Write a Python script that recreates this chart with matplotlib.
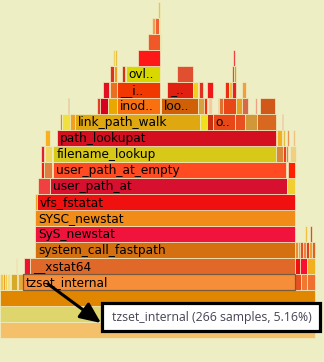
import matplotlib
matplotlib.use("Agg")
from matplotlib import pyplot as plt
from matplotlib.patches import Rectangle

total_samples = 308
hover_name = "tzset_internal"
hover_samples = 266
hover_percent = 5.16

# frames: (depth, start sample, samples, name)
frames = [
    (0, 0, 308, ""), (1, 0, 308, ""), (2, 0, 308, ""),
    (3, 0, 3, ""), (3, 3, 2, ""), (3, 5, 2, ""), (3, 7, 3, ""), (3, 11, 6, ""),
    (3, 17, 1, ""), (3, 18, 4, ""), (3, 22, 266, "tzset_internal"),
    (3, 288, 6, ""), (3, 294, 6, ""), (3, 300, 8, ""),
    (4, 16, 1, ""), (4, 23, 6, ""), (4, 29, 259, "__xstat64"),
    (4, 288, 5, ""), (4, 293, 7, ""), (4, 300, 8, ""),
    (5, 34, 254, "system_call_fastpath"), (5, 288, 3, ""), (5, 291, 2, ""),
    (5, 293, 3, ""), (5, 296, 3, ""), (5, 299, 3, ""), (5, 302, 3, ""), (5, 305, 3, ""),
    (6, 34, 254, "SyS_newstat"), (6, 298, 2, ""), (6, 303, 2, ""),
    (7, 34, 254, "SYSC_newstat"),
    (8, 34, 2, ""), (8, 36, 252, "vfs_fstatat"),
    (9, 37, 12, ""), (9, 49, 232, "user_path_at"), (9, 281, 7, ""),
    (10, 40, 3, ""), (10, 43, 8, ""), (10, 52, 228, "user_path_at_empty"), (10, 282, 6, ""),
    (11, 40, 3, ""), (11, 44, 7, ""), (11, 52, 218, "filename_lookup"),
    (11, 270, 7, ""), (11, 277, 3, ""), (11, 280, 2, ""), (11, 284, 5, ""),
    (12, 44, 5, ""), (12, 56, 214, "path_lookupat"), (12, 271, 5, ""),
    (12, 277, 2, ""), (12, 281, 2, ""), (12, 286, 2, ""),
    (13, 59, 2, ""), (13, 61, 7, ""), (13, 68, 5, ""), (13, 73, 123, "link_path_walk"),
    (13, 196, 6, ""), (13, 202, 6, ""), (13, 208, 22, "o.."), (13, 230, 10, ""),
    (13, 240, 11, ""), (13, 251, 19, ""), (13, 276, 1, ""),
    (14, 66, 1, ""), (14, 95, 3, ""), (14, 98, 8, ""), (14, 106, 8, ""),
    (14, 114, 42, "inod.."), (14, 157, 37, "loo.."), (14, 194, 5, ""), (14, 199, 3, ""),
    (14, 203, 4, ""), (14, 213, 1, ""), (14, 214, 4, ""), (14, 218, 13, ""),
    (14, 231, 6, ""), (14, 237, 5, ""), (14, 249, 2, ""), (14, 254, 15, ""),
    (15, 101, 6, ""), (15, 108, 6, ""), (15, 114, 42, "__i.."), (15, 163, 26, "_.."),
    (15, 189, 5, ""), (15, 195, 3, ""), (15, 202, 6, ""), (15, 220, 4, ""),
    (15, 224, 3, ""), (15, 227, 4, ""), (15, 237, 4, ""),
    (16, 108, 3, ""), (16, 111, 3, ""), (16, 119, 3, ""), (16, 123, 33, "ovl.."),
    (16, 173, 16, ""), (16, 227, 2, ""), (16, 229, 2, ""),
    (17, 110, 2, ""), (17, 112, 2, ""), (17, 135, 21, ""), (17, 228, 2, ""),
    (18, 145, 11, ""), (18, 156, 1, ""),
    (19, 149, 3, ""), (19, 152, 3, ""), (19, 155, 1, ""),
    (20, 154, 2, ""),
]

frame_colors = [
    "#F4C06A", "#DED66C", "#E08600",
    "#F0C848", "#F0A030", "#F0D050", "#F0E080", "#D8A828",
    "#E89030", "#E8A838", "#F68D38",
    "#E85020", "#F07830", "#F07030",
    "#F0B070", "#F01030", "#E06828",
    "#F01010", "#F81030", "#F0B020",
    "#D47010", "#E89030", "#F0A040",
    "#E05020", "#F08040", "#E04020", "#F0A030", "#E06020",
    "#F0143C", "#F0C040", "#E05010",
    "#F28C18",
    "#F0A020", "#F01010",
    "#F04040", "#D81030", "#F0D030",
    "#F02010", "#E08040", "#FF4A22", "#FF2000",
    "#E02030", "#F0D860", "#D8C818",
    "#D88838", "#F04020", "#F08040", "#F0D080",
    "#F8B020", "#D41020", "#F0B020",
    "#E0C040", "#F09050", "#F0C080",
    "#F08030", "#F0E040", "#F0A020", "#E0A810",
    "#F0E020", "#C83010", "#E84818", "#E85020",
    "#D09838", "#D86820", "#F04040",
    "#D04010", "#E04020", "#D80020", "#E8A800",
    "#F87010", "#D06008", "#D8A040", "#F03010",
    "#F8C8A0", "#F06030", "#E07030", "#E84818",
    "#E8A020", "#D86848", "#F0A080", "#D05818",
    "#E01020", "#E87020", "#F03800", "#E02010",
    "#F0D020", "#E03020", "#F01818", "#E83010",
    "#F0C030", "#E82020", "#F0A040",
    "#E03020", "#F0A020", "#D83010", "#D8D800",
    "#E05030", "#E05020", "#D8A020",
    "#F0D060", "#E8C040", "#FF1818", "#F04040",
    "#F05828", "#F0C040",
    "#F0A050", "#F06030", "#F0C040",
    "#E8C838",
]

bg = "#EEEEC4"
W, H = 324, 362
fig = plt.figure(figsize=(W / 100, H / 100), dpi=100, facecolor=bg)
ax = fig.add_axes([0, 0, 1, 1])
ax.set_facecolor(bg)
ax.set_xlim(0, total_samples * 324 / 315)
ax.set_ylim(-2, 20.625)
ax.axis("off")

depths = [f[0] for f in frames]
starts = [f[1] for f in frames]
widths = [f[2] for f in frames]
ax.barh(depths, widths, left=starts, height=0.94, color=frame_colors,
        edgecolor=bg, linewidth=0.5)

for depth, start, samples, name in frames:
    if name:
        ax.annotate(name, (start, depth), xytext=(2.2, -0.5), textcoords="offset points",
                    fontsize=8.7, color="black", va="center", ha="left",
                    family="DejaVu Sans")

# outline on the hovered frame
hover = [f for f in frames if f[3] == hover_name][0]
ax.add_patch(Rectangle((hover[1], hover[0] - 0.47), hover[2], 0.94, fill=False,
                       edgecolor="#7A5A3A", linewidth=0.9))

# tooltip (pixel layout)
def fx(x):
    return x / W

def fy(y):
    return 1 - y / H

fig.patches.append(Rectangle((fx(102), fy(331)), fx(218), 28 / H, transform=fig.transFigure,
                             facecolor="white", edgecolor="black", linewidth=2.3, zorder=5))
fig.text(fx(112), fy(318), f"{hover_name} ({hover_samples} samples, {hover_percent:.2f}%)",
         fontsize=8.8, color="#454555", va="center", ha="left", family="Open Sans", zorder=7)

ax.annotate("", xy=(fx(101), fy(323)), xytext=(fx(48), fy(284)),
            xycoords="figure fraction", textcoords="figure fraction",
            arrowprops=dict(arrowstyle="-|>,head_length=0.45,head_width=0.2",
                            mutation_scale=28, lw=2.2, color="black",
                            shrinkA=0, shrinkB=0))

fig.savefig("out.png", dpi=100, facecolor=bg)
